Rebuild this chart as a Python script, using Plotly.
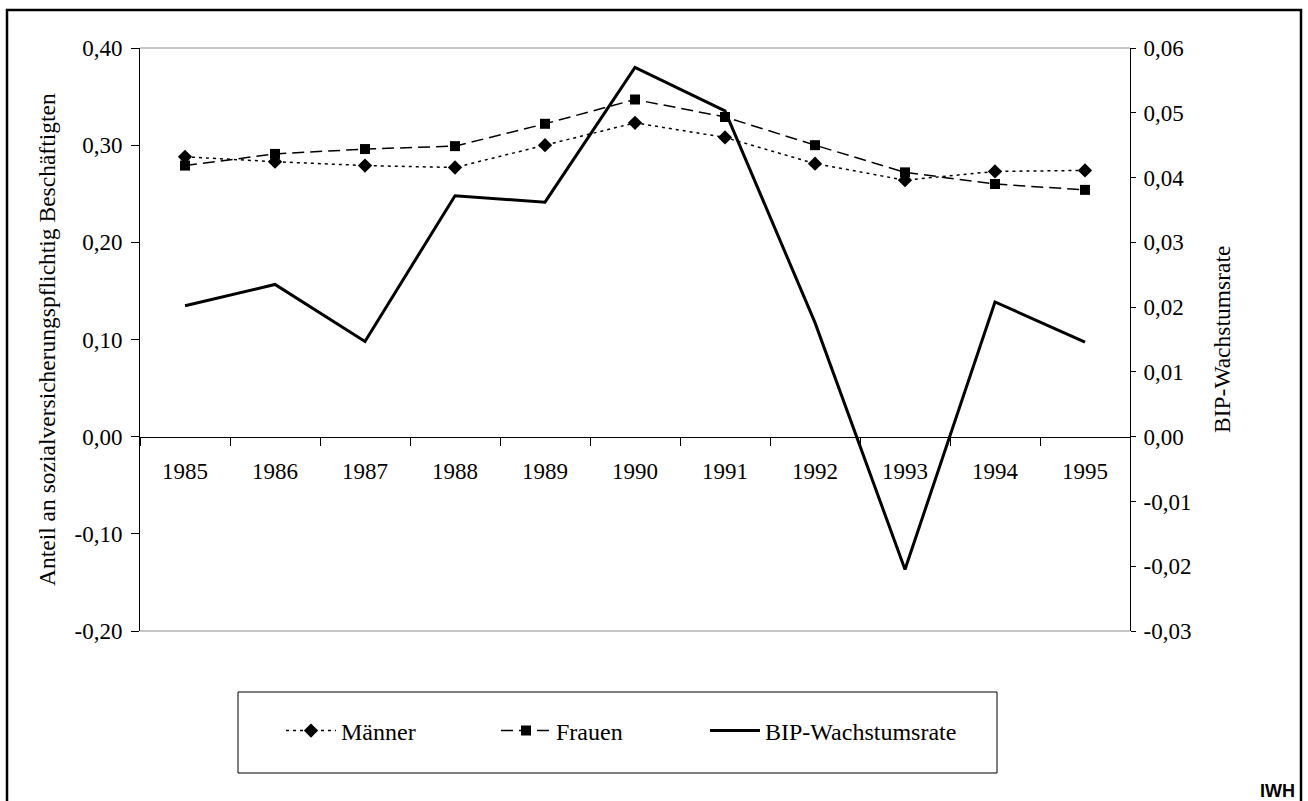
import plotly.graph_objects as go

# ---------------- data ----------------
years = ["1985", "1986", "1987", "1988", "1989", "1990", "1991", "1992", "1993", "1994", "1995"]
maenner = [0.288, 0.283, 0.279, 0.277, 0.300, 0.323, 0.308, 0.281, 0.264, 0.273, 0.274]
frauen = [0.279, 0.291, 0.296, 0.299, 0.322, 0.347, 0.329, 0.300, 0.272, 0.260, 0.254]
bip = [0.0202, 0.0235, 0.0147, 0.0372, 0.0362, 0.0570, 0.0503, 0.0176, -0.0205, 0.0208, 0.0146]

left_ticks = [-0.2, -0.1, 0.0, 0.1, 0.2, 0.3, 0.4]
left_labels = ["-0,20", "-0,10", "0,00", "0,10", "0,20", "0,30", "0,40"]
right_ticks = [-0.03, -0.02, -0.01, 0.0, 0.01, 0.02, 0.03, 0.04, 0.05, 0.06]
right_labels = ["-0,03", "-0,02", "-0,01", "0,00", "0,01", "0,02", "0,03", "0,04", "0,05", "0,06"]

left_title = "Anteil an sozialversicherungspflichtig Beschäftigten"
right_title = "BIP-Wachstumsrate"

# ---------------- layout geometry ----------------
W, H = 1308, 801
def px(x):
    return x / W
def py(y):
    return 1 - y / H

xd = [px(140), px(1130)]
yd = [py(631), py(48)]
lrange = [-0.2, 0.4]
rrange = [-0.03, 0.06]
zero_pos = yd[0] + (yd[1] - yd[0]) * (0 - lrange[0]) / (lrange[1] - lrange[0])
boundaries = [i + 0.5 for i in range(len(years) - 1)]

FONT = "Liberation Serif, Times New Roman, serif"
fs = 23
fs_title = 23.5
fs_leg = 24

fig = go.Figure()
fig.add_trace(go.Scatter(
    x=years, y=maenner, name="Männer", mode="lines+markers",
    line=dict(color="black", width=1.5, dash="3px,4px"),
    marker=dict(symbol="diamond", size=11, color="black"),
    legendwidth=150, xaxis="x", yaxis="y"))
fig.add_trace(go.Scatter(
    x=years, y=frauen, name="Frauen", mode="lines+markers",
    line=dict(color="black", width=1.5, dash="12px,6px"),
    marker=dict(symbol="square", size=10, color="black"),
    legendwidth=144, xaxis="x", yaxis="y"))
fig.add_trace(go.Scatter(
    x=years, y=bip, name="BIP-Wachstumsrate", mode="lines",
    line=dict(color="black", width=3),
    legendwidth=215, xaxis="x", yaxis="y2"))

common_tick = dict(tickcolor="black", tickwidth=1, showgrid=False, zeroline=False)

fig.update_layout(
    width=W, height=H, autosize=False,
    margin=dict(l=0, r=0, t=0, b=0, pad=0, autoexpand=False),
    paper_bgcolor="white", plot_bgcolor="white",
    font=dict(family=FONT, size=fs, color="black"),
    xaxis=dict(type="category", categoryorder="array", categoryarray=years,
               domain=xd, anchor="free", position=zero_pos, range=[-0.5, len(years) - 0.5],
               showline=True, linecolor="black", linewidth=1,
               ticks="outside", ticklen=8, tickson="boundaries",
               tickfont=dict(family=FONT, size=fs), ticklabelstandoff=14,
               **common_tick),
    xaxis2=dict(overlaying="x", domain=xd, anchor="free", position=zero_pos,
                range=[-0.5, len(years) - 0.5], tickvals=boundaries,
                ticks="inside", ticklen=8, showticklabels=False, showline=False,
                **common_tick),
    yaxis=dict(domain=yd, range=lrange, tickvals=left_ticks, ticktext=left_labels,
               anchor="x", side="left", ticks="outside", ticklen=8,
               showline=True, linecolor="black", linewidth=1,
               tickfont=dict(family=FONT, size=fs), ticklabelstandoff=4,
               **common_tick),
    yaxis3=dict(overlaying="y", domain=yd, range=lrange, tickvals=left_ticks,
                anchor="x", side="left", ticks="inside", ticklen=7,
                showticklabels=False, showline=False, **common_tick),
    yaxis2=dict(overlaying="y", domain=yd, range=rrange, tickvals=right_ticks,
                ticktext=right_labels, anchor="x", side="right", ticks="outside",
                ticklen=5, showline=True, linecolor="black", linewidth=1,
                tickfont=dict(family=FONT, size=fs), ticklabelstandoff=3,
                **common_tick),
    yaxis4=dict(overlaying="y", domain=yd, range=rrange, tickvals=right_ticks,
                anchor="x", side="right", ticks="inside", ticklen=7,
                showticklabels=False, showline=False, **common_tick),
    showlegend=True,
    legend=dict(orientation="h", x=px(281), y=py(731), xanchor="left", yanchor="middle",
                bgcolor="rgba(0,0,0,0)", borderwidth=0,
                font=dict(family=FONT, size=fs_leg), itemwidth=50,
                tracegroupgap=0),
    shapes=[
        # outer frame
        dict(type="rect", xref="paper", yref="paper", x0=px(7), x1=px(1301), y0=py(806), y1=py(10),
             line=dict(color="black", width=2.5)),
        # top / bottom plot border (gray)
        dict(type="line", xref="paper", yref="paper", x0=xd[0], x1=xd[1], y0=yd[1], y1=yd[1],
             line=dict(color="#8c8c8c", width=1)),
        dict(type="line", xref="paper", yref="paper", x0=xd[0], x1=xd[1], y0=yd[0], y1=yd[0],
             line=dict(color="#8c8c8c", width=1)),
        # legend box
        dict(type="rect", xref="paper", yref="paper", x0=px(238), x1=px(997), y0=py(773), y1=py(692),
             line=dict(color="black", width=1)),
    ],
    annotations=[
        dict(text=left_title, xref="paper", yref="paper", x=px(47), y=py(340),
             textangle=-90, showarrow=False, xanchor="center", yanchor="middle",
             font=dict(family=FONT, size=fs_title)),
        dict(text=right_title, xref="paper", yref="paper", x=px(1222), y=py(340),
             textangle=-90, showarrow=False, xanchor="center", yanchor="middle",
             font=dict(family=FONT, size=fs_title)),
        dict(text="<b>IWH</b>", xref="paper", yref="paper", x=px(1297), y=py(791),
             showarrow=False, xanchor="right", yanchor="middle",
             font=dict(family="Liberation Sans, Arial, sans-serif", size=18)),
    ],
)

post = "document.body.style.margin='0';document.body.style.padding='0';"
fig.write_html("out.html", config={"displayModeBar": False}, post_script=post)
